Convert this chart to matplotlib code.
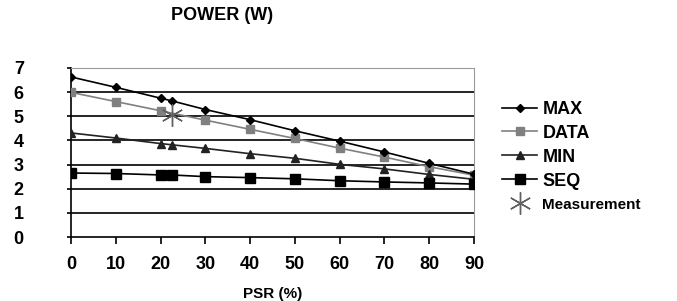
import numpy as np
import matplotlib.pyplot as plt

plt.rcParams['font.family'] = 'Liberation Sans'
plt.rcParams['font.weight'] = 'bold'

# data
psr = [0, 10, 20, 22.5, 30, 40, 50, 60, 70, 80, 90]
psr_data = [0, 10, 20, 30, 40, 50, 60, 70, 80, 90]
p_max = [6.63, 6.20, 5.75, 5.64, 5.28, 4.86, 4.40, 3.97, 3.52, 3.05, 2.60]
p_data = [5.99, 5.61, 5.23, 4.84, 4.46, 4.08, 3.68, 3.31, 2.91, 2.56]
p_min = [4.31, 4.10, 3.87, 3.82, 3.67, 3.45, 3.26, 3.01, 2.82, 2.59, 2.39]
p_seq = [2.65, 2.63, 2.57, 2.57, 2.50, 2.46, 2.41, 2.33, 2.28, 2.24, 2.19]
meas_x = [22.5]
meas_y = [5.04]

fig = plt.figure(figsize=(6.77, 3.01), dpi=100)
ax = fig.add_axes([71/677, 1-237/301, (474-71)/677, (237-68)/301])

ax.plot(psr, p_max, color='black', lw=1.2, marker='D', ms=4, label='MAX', zorder=5)
ax.plot(psr_data, p_data, color='#808080', lw=1.2, marker='s', ms=5.5, label='DATA', zorder=4)
ax.plot(psr, p_min, color='#222222', lw=1.2, marker='^', ms=6, label='MIN', zorder=4)
ax.plot(psr, p_seq, color='black', lw=1.2, marker='s', ms=6.5, label='SEQ', zorder=4)
ax.plot(meas_x, meas_y, ls='none', color='#606060', marker=(6, 2, 0), ms=16,
        mew=1.0, label='Measurement', zorder=6)

ax.set_xlim(0, 90)
ax.set_ylim(0, 7)
ax.set_xticks(np.arange(0, 100, 10))
ax.set_yticks(np.arange(0, 8, 1))
for y in range(1, 7):
    ax.axhline(y, color='black', lw=1.2, zorder=1)

ax.spines['top'].set_color('#999999')
ax.spines['right'].set_color('#999999')
ax.spines['left'].set_linewidth(1.2)
ax.spines['bottom'].set_linewidth(1.2)
ax.tick_params(axis='y', length=3, width=1.2, pad=31, labelsize=13)
ax.tick_params(axis='x', length=5, width=1.2, pad=9, labelsize=13)
for t in ax.get_xticklabels() + ax.get_yticklabels():
    t.set_fontweight('bold')

ax.set_xlabel('PSR (%)', fontsize=11, fontweight='bold', labelpad=10)
fig.text(222/677, 1-15/301, 'POWER (W)', ha='center', va='center',
         fontsize=13, fontweight='bold')

leg = ax.legend(loc='upper left', bbox_to_anchor=(1.07, 0.805), frameon=False,
                prop={'family': 'Liberation Sans', 'weight': 'bold', 'size': 13},
                handlelength=1.95, handletextpad=0.28,
                labelspacing=0.38, borderaxespad=0, borderpad=0)
leg.get_texts()[-1].set_fontsize(11)

fig.savefig('out.png', dpi=100)
